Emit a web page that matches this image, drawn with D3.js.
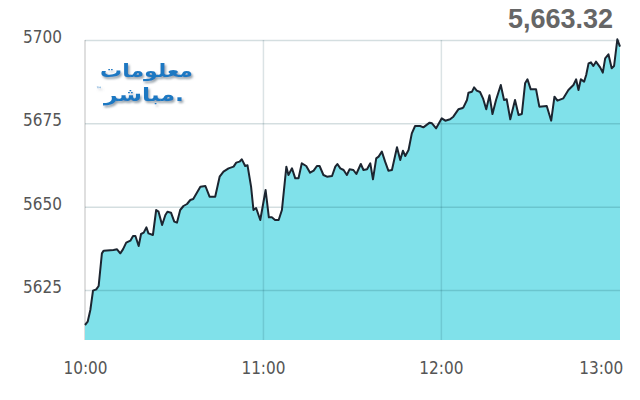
<!DOCTYPE html>
<html>
<head>
<meta charset="utf-8">
<script src="https://cdn.jsdelivr.net/npm/d3@7"></script>
<style>
body{margin:0;background:#fff;}
svg{display:block;}
</style>
</head>
<body>
<svg id="svg" width="640" height="400"></svg>
<script>
// minutes after 10:00
var minutes=[0,0.9,1.8,2.7,3.8,4.6,5.7,6.3,9.6,10.8,11.9,12.8,13.9,15.3,16.2,17.0,18.1,18.9,19.8,20.7,
21.4,22.9,24.0,24.8,26.0,27.1,27.8,29.0,30.1,31.0,32.1,33.2,34.4,35.5,36.5,38.9,40.6,42.0,43.9,45.4,
46.7,48.4,50.1,51.0,52.1,52.9,54.0,54.8,56.0,56.8,57.7,59.1,60.9,62.0,63.0,64.1,65.3,66.4,67.9,68.6,
69.8,70.9,72.0,73.1,74.6,75.9,77.1,78.2,79.1,80.4,81.6,83.3,84.4,85.1,86.1,87.2,88.3,89.2,90.5,91.5,
93.0,93.9,95.1,96.2,97.1,98.2,99.0,100.1,101.2,102.3,103.5,105.2,106.3,107.2,108.0,109.1,110.2,111.3,113.0,114.1,
116.2,117.0,118.4,120.3,121.5,123.1,124.2,125.9,127.1,127.6,128.8,129.3,130.5,131.2,132.1,133.2,134.2,135.3,136.4,137.4,
138.6,140.2,141.3,142.2,143.4,145.0,146.2,147.3,148.4,149.2,150.3,152.1,153.2,155.7,157.2,158.3,159.3,161.3,163.0,164.7,
165.6,166.4,167.2,168.3,169.0,169.8,170.6,171.4,172.3,173.7,174.6,175.4,176.5,177.6,178.4,179.5,180.4];

var index=[5614.5,5615.5,5619.0,5624.8,5625.2,5626.2,5636.0,5636.8,5637.0,5637.2,5636.0,5637.2,5639.2,5639.8,5641.2,5641.2,5638.2,5641.8,5642.2,5643.8,
5642.0,5641.5,5649.0,5648.5,5644.5,5647.5,5648.5,5648.2,5645.5,5645.2,5649.0,5650.2,5650.8,5652.0,5652.3,5656.0,5656.2,5653.0,5653.0,5659.0,
5660.5,5661.5,5662.0,5663.2,5663.5,5664.2,5662.2,5662.4,5656.0,5649.0,5649.6,5646.0,5655.0,5646.8,5646.8,5646.0,5646.0,5649.0,5662.0,5659.5,
5661.5,5658.5,5658.5,5663.0,5662.2,5660.2,5660.8,5662.2,5662.2,5659.5,5659.0,5659.2,5662.0,5662.8,5661.5,5661.0,5659.5,5661.2,5661.0,5659.8,
5662.8,5661.0,5661.2,5663.0,5658.2,5664.5,5665.0,5666.5,5663.5,5660.8,5661.0,5667.8,5664.0,5666.8,5665.2,5667.0,5672.0,5674.2,5674.2,5673.8,
5675.2,5675.0,5673.5,5676.5,5675.8,5676.2,5677.0,5679.2,5679.5,5679.8,5682.0,5684.2,5684.5,5685.8,5684.8,5684.4,5682.5,5679.2,5683.4,5677.8,
5682.0,5686.5,5682.0,5682.2,5676.2,5682.0,5677.5,5677.8,5687.0,5688.2,5685.2,5685.2,5680.0,5680.2,5675.8,5683.0,5681.8,5682.5,5685.0,5686.5,
5688.2,5685.0,5688.2,5687.5,5689.5,5693.0,5693.3,5692.2,5693.5,5691.8,5690.2,5694.5,5695.7,5691.5,5692.2,5700.2,5698.0];

var yticks=[5625,5650,5675,5700];
var xticks=[0,60,120,180];
var xlabels=['10:00','11:00','12:00','13:00'];
var lastValue='5,663.32';

var svg=d3.select("#svg");
var padding={top:40,right:20,bottom:60,left:85};
var chartarea={width:640-padding.left-padding.right,height:400-padding.top-padding.bottom};

var data=minutes.map(function(m,i){return {m:m,v:index[i]};});

var xscale=d3.scaleLinear().domain([0,180.4]).range([padding.left,padding.left+chartarea.width]);
var yscale=d3.scaleLinear().domain([5610,5700]).range([padding.top+chartarea.height,padding.top]);

var labelFont='"DejaVu Sans Condensed","DejaVu Sans",sans-serif';

// soft shadow for the logo
var defs=svg.append("defs");
var f=defs.append("filter").attr("id","shadow").attr("x","-10%").attr("y","-10%").attr("width","130%").attr("height","140%");
f.append("feDropShadow").attr("dx",1.5).attr("dy",2).attr("stdDeviation",0.8)
.attr("flood-color","#7c8a96").attr("flood-opacity",0.8);

// left border of the plot
svg.append("line")
.attr("x1",padding.left).attr("x2",padding.left)
.attr("y1",padding.top).attr("y2",padding.top+chartarea.height)
.attr("stroke","#d4d4d4").attr("stroke-width",1.5);

var area=d3.area()
.x(function(d){return xscale(d.m);})
.y0(yscale(5610))
.y1(function(d){return yscale(d.v);});

svg.append("path").datum(data)
.attr("d",area)
.attr("fill","#80e1ea");

// y axis + horizontal grid
var yaxis=svg.append("g")
.attr("transform","translate("+padding.left+",0)")
.call(d3.axisLeft(yscale).tickValues(yticks).tickFormat(d3.format("d"))
.tickSize(-chartarea.width).tickPadding(23));
yaxis.select(".domain").remove();
yaxis.selectAll("line").attr("stroke","rgba(0,60,70,0.17)").attr("stroke-width",1.5);
yaxis.selectAll("text")
.attr("dy","0.15em")
.style("font-family",labelFont).style("font-size","17px").attr("fill","#555");

// x axis + vertical grid
var xaxis=svg.append("g")
.attr("transform","translate(0,"+(padding.top+chartarea.height)+")")
.call(d3.axisBottom(xscale).tickValues(xticks).tickSize(-chartarea.height).tickPadding(22)
.tickFormat(function(d,i){return xlabels[i];}));
xaxis.select(".domain").remove();
xaxis.selectAll("line")
.attr("stroke","rgba(0,60,70,0.14)").attr("stroke-width",1.5)
.attr("display",function(d){return (d==0||d==180)?"none":null;});
xaxis.selectAll("text")
.style("font-family",labelFont).style("font-size","17px").attr("fill","#555")
.attr("text-anchor",function(d){return d==180?"end":"middle";})
.attr("dx",function(d){return d==180?"4":"0";});

var line=d3.line()
.x(function(d){return xscale(d.m);})
.y(function(d){return yscale(d.v);});

svg.append("path").datum(data)
.attr("d",line)
.attr("fill","none")
.attr("stroke","#1c2530")
.attr("stroke-width",2)
.attr("stroke-linejoin","round");

// last value
svg.append("text")
.attr("x",613).attr("y",28)
.attr("text-anchor","end")
.style("font-family","'Liberation Sans',Arial,sans-serif")
.style("font-size","27px").style("font-weight","bold")
.attr("fill","#666")
.text(lastValue);

// logo
var logo=svg.append("g").attr("transform","translate(100,0)").attr("filter","url(#shadow)");
logo.append("text").attr("x",0).attr("y",77)
.attr("textLength",93).attr("lengthAdjust","spacingAndGlyphs")
.style("font-family","'DejaVu Sans',sans-serif").style("font-size","18px").style("font-weight","bold")
.attr("fill","#1e78c2").text("معلومات");
logo.append("text").attr("x",4).attr("y",101)
.attr("textLength",80).attr("lengthAdjust","spacingAndGlyphs")
.style("font-family","'DejaVu Sans',sans-serif").style("font-size","19px").style("font-weight","bold")
.attr("fill","#1e78c2").text("مباشر.");
logo.append("text").attr("x",-4).attr("y",91)
.style("font-family","'DejaVu Sans',sans-serif").style("font-size","6px")
.attr("fill","#1e78c2").text("™");
</script>
</body>
</html>
